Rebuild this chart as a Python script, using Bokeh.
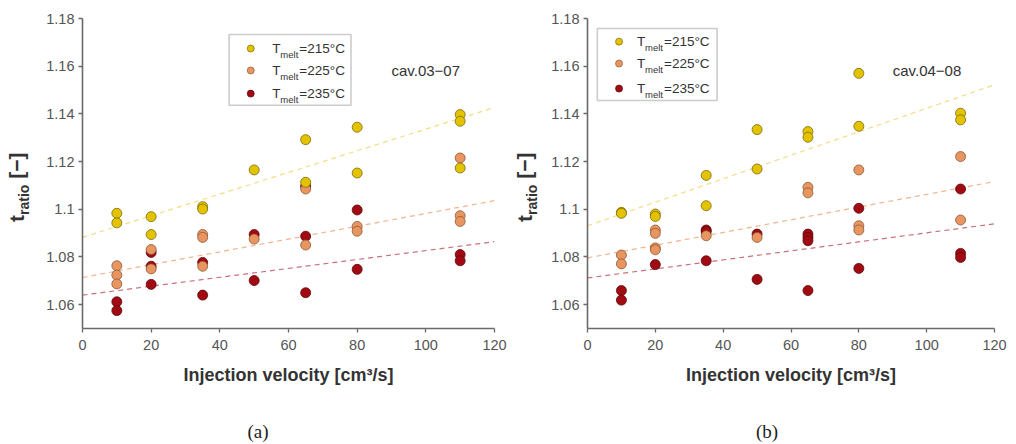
from bokeh.plotting import figure
from bokeh.layouts import row, column
from bokeh.models import Label, BoxAnnotation, FixedTicker, CustomJSTickFormatter, Div
from bokeh.embed import file_html
from bokeh.resources import INLINE

# ---------------- data ----------------
series_names = ["235", "225", "215"]   # drawing order (235 first, 215 on top)

# panel (a): cav.03-07
a_x_215 = [10, 10, 20, 20, 35, 35, 50, 65, 65, 80, 80, 110, 110, 110]
a_y_215 = [1.0983, 1.0943, 1.0969, 1.0894, 1.1011, 1.1001, 1.1165, 1.1292, 1.1113,
           1.1344, 1.1152, 1.1397, 1.1369, 1.1173]
a_x_225 = [10, 10, 10, 20, 20, 35, 35, 35, 50, 65, 65, 80, 80, 110, 110, 110]
a_y_225 = [1.0763, 1.0724, 1.0687, 1.0831, 1.0750, 1.0894, 1.0882, 1.0761, 1.0875,
           1.1085, 1.0850, 1.0928, 1.0908, 1.1215, 1.0973, 1.0949]
a_x_235 = [10, 10, 20, 20, 20, 35, 35, 50, 50, 65, 65, 65, 80, 80, 110, 110]
a_y_235 = [1.0612, 1.0575, 1.0819, 1.0761, 1.0685, 1.0777, 1.0640, 1.0894, 1.0701,
           1.1097, 1.0887, 1.0650, 1.0997, 1.0748, 1.0810, 1.0784]
a_fit_x = [0, 120]
a_fit_215 = [1.0882, 1.1427]
a_fit_225 = [1.0714, 1.1036]
a_fit_235 = [1.0640, 1.0864]

# panel (b): cav.04-08
b_x_215 = [10, 10, 20, 20, 35, 35, 50, 50, 65, 65, 80, 80, 110, 110]
b_y_215 = [1.0987, 1.0983, 1.0980, 1.0970, 1.1142, 1.1015, 1.1334, 1.1169, 1.1326,
           1.1302, 1.1570, 1.1348, 1.1403, 1.1375]
b_x_225 = [10, 10, 20, 20, 20, 20, 35, 50, 65, 65, 80, 80, 80, 110, 110]
b_y_225 = [1.0808, 1.0771, 1.0913, 1.0899, 1.0838, 1.0830, 1.0889, 1.0882, 1.1092,
           1.1069, 1.1165, 1.0931, 1.0913, 1.1221, 1.0955]
b_x_235 = [10, 10, 20, 35, 35, 35, 50, 50, 65, 65, 65, 65, 80, 80, 110, 110, 110]
b_y_235 = [1.0659, 1.0619, 1.0768, 1.0913, 1.0906, 1.0784, 1.0896, 1.0706, 1.0896,
           1.0882, 1.0868, 1.0659, 1.1004, 1.0752, 1.1085, 1.0815, 1.0798]
b_fit_x = [0, 120]
b_fit_215 = [1.0931, 1.1522]
b_fit_225 = [1.0796, 1.1116]
b_fit_235 = [1.0712, 1.0939]

legend_names = ["215", "225", "235"]
y_ticks = [1.06, 1.08, 1.10, 1.12, 1.14, 1.16, 1.18]
x_ticks = [0, 20, 40, 60, 80, 100, 120]

# ---------------- styles ----------------
FILL = {"215": "#e3c300", "225": "#e8955f", "235": "#a10a12"}
EDGE = {"215": "#7a6a10", "225": "#8a5a3a", "235": "#5a0a0a"}
LINE = {"215": "#f3dd86", "225": "#f2b58e", "235": "#c9707e"}
AXIS_COL = "#6a6a6a"
TICK_TXT = "#555555"
FONT = "Liberation Sans"
TOP_H = 390


def make_panel(xs, ys, fit_x, fits, tag, legend_box, legend_pos,
               border_left, border_right):
    p = figure(width=border_left + 412 + border_right, height=TOP_H,
               x_range=(0, 120), y_range=(1.05, 1.18),
               output_backend="svg", toolbar_location=None,
               min_border_left=border_left, min_border_right=border_right,
               min_border_top=18, min_border_bottom=TOP_H - 328)
    p.outline_line_color = None
    p.grid.visible = False
    p.background_fill_color = "white"
    p.border_fill_color = "white"

    # legend frame (under the glyphs)
    l, r, t, b = legend_box
    p.add_layout(BoxAnnotation(left=l, right=r, top=t, bottom=b, fill_color="white",
                               fill_alpha=1.0, line_color="#555555", line_width=1.6,
                               level="underlay"))

    # regression lines
    for k in series_names:
        p.line(fit_x, fits[k], line_color=LINE[k], line_width=1.2, line_dash="5 4")
    # points
    for k in series_names:
        p.scatter(xs[k], ys[k], size=10, fill_color=FILL[k], line_color=EDGE[k],
                  line_width=0.8)

    # axes
    p.xaxis.ticker = FixedTicker(ticks=x_ticks)
    p.yaxis.ticker = FixedTicker(ticks=y_ticks)
    p.yaxis.formatter = CustomJSTickFormatter(code="return String(Math.round(tick*100)/100);")
    for ax in (p.xaxis[0], p.yaxis[0]):
        ax.axis_line_color = AXIS_COL
        ax.axis_line_width = 1.6
        ax.major_tick_line_color = AXIS_COL
        ax.major_tick_line_width = 1.3
        ax.major_tick_in = 0
        ax.major_tick_out = 4
        ax.minor_tick_line_color = None
        ax.major_label_text_font = FONT
        ax.major_label_text_font_size = "14.5px"
        ax.major_label_text_color = TICK_TXT
    p.yaxis.major_label_standoff = 4
    p.xaxis.major_label_standoff = 7
    p.xaxis.axis_label = "Injection velocity [cm\u00b3/s]"
    p.xaxis.axis_label_text_font = FONT
    p.xaxis.axis_label_text_font_style = "bold"
    p.xaxis.axis_label_text_font_size = "18px"
    p.xaxis.axis_label_text_color = "#333333"
    p.xaxis.axis_label_standoff = 12

    # cavity tag
    p.add_layout(Label(x=90, y=1.158, text=tag, text_font=FONT, text_font_size="15px",
                       text_color="#333333", text_baseline="middle", text_align="left"))

    # legend entries
    mx, ty, tx = legend_pos
    for k, yy in zip(legend_names, ty):
        p.scatter([mx], [yy], size=7, fill_color=FILL[k], line_color=EDGE[k],
                  line_width=0.7)
        p.add_layout(Label(x=tx, y=yy, text="T", text_font=FONT, text_font_size="13.5px",
                           text_color="#333333", text_baseline="middle"))
        p.add_layout(Label(x=tx, y=yy, x_offset=8, y_offset=-6, text="melt", text_font=FONT,
                           text_font_size="9.5px", text_color="#333333",
                           text_baseline="middle"))
        p.add_layout(Label(x=tx, y=yy, x_offset=27, text="=%s\u00b0C" % k, text_font=FONT,
                           text_font_size="13.5px", text_color="#333333",
                           text_baseline="middle"))
    return p


def ylabel_div(width, left, bottom):
    html = (
        '<div style="position:relative;width:%dpx;height:%dpx;">'
        '<div style="position:absolute;left:%dpx;top:%dpx;transform:rotate(-90deg);'
        'transform-origin:left top;white-space:nowrap;line-height:1;'
        'font-family:\'Liberation Sans\';font-weight:bold;font-size:21px;color:#333333;">'
        't<sub style="font-size:14px;">ratio</sub> [\u2212]</div></div>'
    ) % (width, TOP_H, left, bottom)
    return Div(text=html, width=width, height=TOP_H, margin=0)


def caption_div(width, cx, text):
    html = (
        '<div style="position:relative;width:%dpx;height:54px;">'
        '<div style="position:absolute;left:%dpx;top:32px;width:60px;text-align:center;'
        'line-height:20px;font-family:\'Liberation Serif\';font-size:19px;color:#222222;">'
        '%s</div></div>'
    ) % (width, cx - 30, text)
    return Div(text=html, width=width, height=54, margin=0)


pa = make_panel({"215": a_x_215, "225": a_x_225, "235": a_x_235},
                {"215": a_y_215, "225": a_y_225, "235": a_y_235},
                a_fit_x, {"215": a_fit_215, "225": a_fit_225, "235": a_fit_235},
                "cav.03\u221207", (42.7, 78.2, 1.1733, 1.1436),
                (49.0, [1.1674, 1.1582, 1.1485], 55.3), 42, 14)
pb = make_panel({"215": b_x_215, "225": b_x_225, "235": b_x_235},
                {"215": b_y_215, "225": b_y_225, "235": b_y_235},
                b_fit_x, {"215": b_fit_215, "225": b_fit_225, "235": b_fit_235},
                "cav.04\u221208", (2.9, 38.2, 1.1758, 1.1456),
                (9.3, [1.1703, 1.1611, 1.1506], 14.6), 34, 22)

top = row(ylabel_div(40, 6, 222), pa, ylabel_div(40, 6, 222), pb, spacing=0)
bottom = row(caption_div(508, 258, "(a)"), caption_div(508, 767 - 508, "(b)"), spacing=0)
layout = column(top, bottom, spacing=0)
open("out.html", "w").write(file_html(layout, INLINE))
